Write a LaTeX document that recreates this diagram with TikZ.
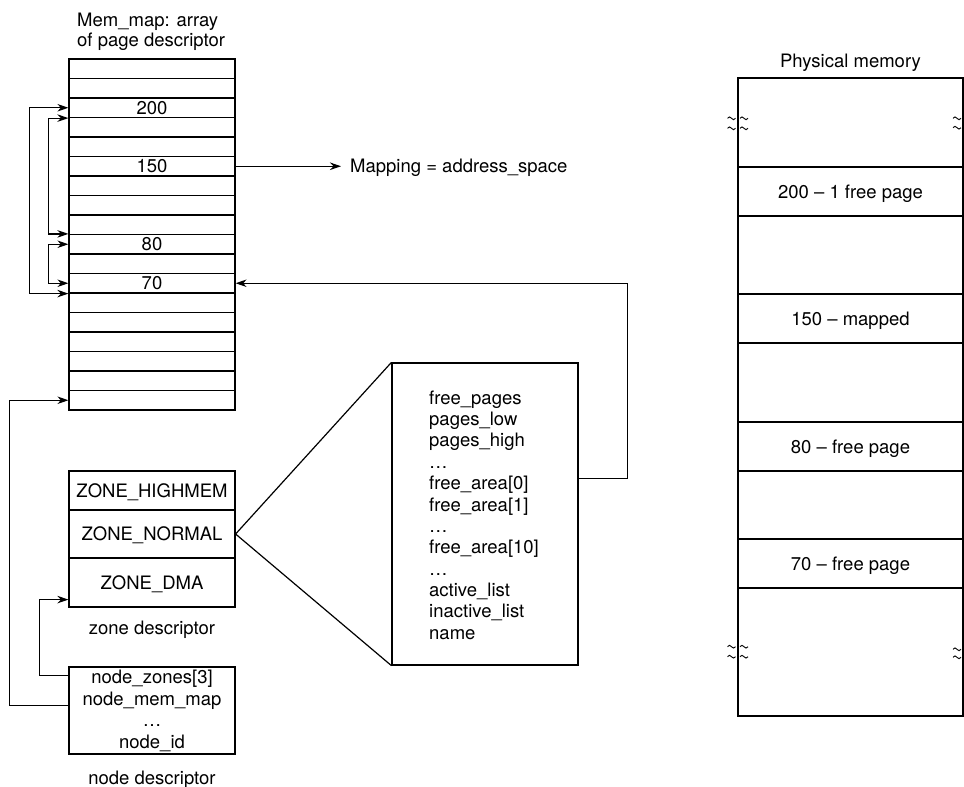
\documentclass[tikz,border=0pt]{standalone}
\usepackage{fontspec}
\setmainfont{TeX Gyre Heros}
\usetikzlibrary{arrows.meta,calc}
\begin{document}
\begin{tikzpicture}[x=1pt,y=-1pt,
  every node/.style={font=\fontsize{18.5}{21.36}\selectfont, inner sep=0pt},
  cell/.style={draw, line width=1.2pt, minimum width=166pt, minimum height=19.5pt},
  box/.style={draw, line width=1.2pt},
  lbl/.style={text height=13.3pt, text depth=0pt},
  conn/.style={line width=1.2pt, -{Stealth[length=11pt,width=7.5pt,inset=3.5pt]}},
  dconn/.style={line width=1.2pt, {Stealth[length=11pt,width=7.5pt,inset=3.5pt]}-{Stealth[length=11pt,width=7.5pt,inset=3.5pt]}},
  plain/.style={line width=1.2pt},
  tld/.style={line width=0.9pt},
]
\useasboundingbox (0,0) rectangle (964,787);

% ---- Mem_map array ----
\node[anchor=north west, align=left, font=\fontsize{18.5}{19.5}\selectfont] (hdr) at (77,13.3) {Mem\_map: array\\of page descriptor};
\foreach \i in {0,...,17}{
  \node[cell] (r\i) at (152,{59+19.5*(\i+0.5)}) {};
}
\node[lbl] (l200) at (r2) {200};
\node[lbl] (l150) at (r5) {150};
\node[lbl] (l80) at (r9) {80};
\node[lbl] (l70) at (r11) {70};

% left double arrows
\draw[dconn] (r2.west) -- ++(-39,0) |- (r11.south west);
\draw[dconn] (r2.south west) -- ++(-20,0) |- (r9.north west);
\draw[dconn] (r9.west) -- ++(-20,0) |- (r11.west);

% mapping
\node[lbl, anchor=west] (map) at (350,166.25) {Mapping = address\_space};
\draw[conn, shorten >=9pt] (r5.east) -- (r5.east -| map.west);

% ---- zone descriptor ----
\node[box, minimum width=166pt, minimum height=39pt, lbl] (zh) at (152,490.5) {ZONE\_HIGHMEM};
\node[box, minimum width=166pt, minimum height=48pt, lbl] (zn) at (152,534) {ZONE\_NORMAL};
\node[box, minimum width=166pt, minimum height=49pt, lbl] (zd) at (152,582.5) {ZONE\_DMA};
\node[lbl] (zlab) at (152,627.5) {zone descriptor};

% ---- zone struct ----
\node[box, minimum width=186pt, minimum height=302pt] (zs) at (485,514) {};
\node[anchor=north west, align=left] (zstxt) at (429,390.5) {free\_pages\\pages\_low\\pages\_high\\…\\free\_area[0]\\free\_area[1]\\…\\free\_area[10]\\…\\active\_list\\inactive\_list\\name};
\draw[plain] (zn.east) -- (zs.north west);
\draw[plain] (zn.east) -- (zs.south west);
\coordinate (zsout) at ($(zs.north east)+(0,116)$);
\draw[conn] (zsout) -- ++(49,0) |- (r11.east);

% ---- node descriptor ----
\node[box, minimum width=166pt, minimum height=87pt] (nd) at (152,710.5) {};
\node[anchor=north, align=center, font=\fontsize{18.5}{21.6}\selectfont] (ndtxt) at (152,670) {node\_zones[3]\\node\_mem\_map\\…\\node\_id};
\node[lbl] (ndlab) at (152,778) {node descriptor};
\coordinate (ns1) at ($(nd.north west)+(0,9)$);
\coordinate (ns2) at ($(nd.north west)+(0,39)$);
\coordinate (zdin) at ($(zd.south west)+(0,-8)$);
\draw[conn] (ns1) -- ++(-29,0) |- (zdin);
\draw[conn] (ns2) -- ++(-59,0) |- (r17.west);

% ---- physical memory ----
\node[lbl] (pmlab) at (850.5,61) {Physical memory};
\node[box, minimum width=225pt, minimum height=638pt] (pm) at (850.5,397) {};
\node[box, lbl, minimum width=225pt, minimum height=49pt] (p200) at (850.5,191.5) {200 – 1 free page};
\node[box, lbl, minimum width=225pt, minimum height=49pt] (p150) at (850.5,318.5) {150 – mapped};
\node[box, lbl, minimum width=225pt, minimum height=49pt] (p80) at (850.5,446.5) {80 – free page};
\node[box, lbl, minimum width=225pt, minimum height=49pt] (p70) at (850.5,563.5) {70 – free page};

% break marks
\foreach \x/\y in {727.5/118.3, 727.5/128.3, 740/118.3, 740/128.3,
                   953/118.3, 953/127.7,
                   727.5/646.7, 727.5/656.7, 740/646.7, 740/656.7,
                   953/649.3, 953/657.3}{
  \draw[tld] (\x,\y) sin ++(2,-1.4) cos ++(2,1.4) sin ++(2,1.4) cos ++(2,-1.4);
}
\end{tikzpicture}
\end{document}
